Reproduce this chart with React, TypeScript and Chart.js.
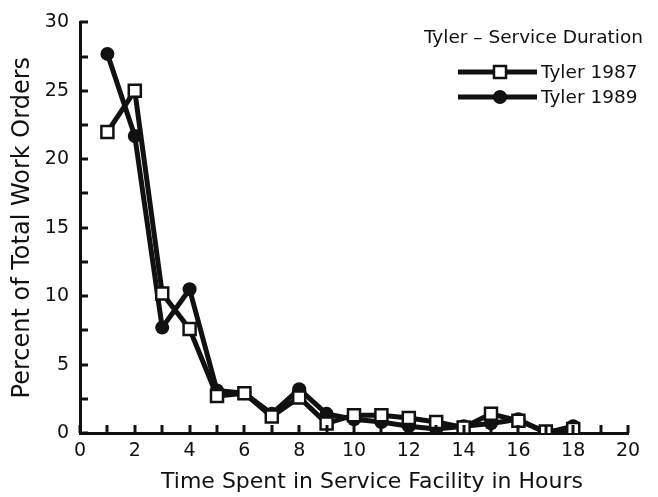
import React, { useEffect, useRef } from "react";
import { Chart, registerables } from "chart.js";

Chart.register(...registerables);

// ---- data ----
const hours = [1, 2, 3, 4, 5, 6, 7, 8, 9, 10, 11, 12, 13, 14, 15, 16, 17, 18];
const tyler1987 = [22.0, 25.0, 10.2, 7.6, 2.7, 2.9, 1.2, 2.6, 0.7, 1.3, 1.3, 1.1, 0.8, 0.4, 1.4, 0.9, 0.1, 0.3];
const tyler1989 = [27.7, 21.7, 7.7, 10.5, 3.1, 2.9, 1.4, 3.2, 1.4, 1.0, 0.8, 0.5, 0.3, 0.5, 0.7, 1.0, 0.0, 0.5];
const seriesLabels = ["Tyler 1987", "Tyler 1989"];
const legendTitle = "Tyler \u2013 Service Duration";
const xTitle = "Time Spent in Service Facility in Hours";
const yTitle = "Percent of Total Work Orders";
const xMin = 0, xMax = 20, xStep = 1, xLabelEvery = 2;
const yMin = 0, yMax = 30, yStep = 2.5, yLabelEvery = 5;

const FONT = "'DejaVu Sans', sans-serif";
const INK = "#111";

const inwardTicks = {
  id: "inwardTicks",
  afterDraw(chart: any) {
    const { ctx, chartArea, scales } = chart;
    ctx.save();
    ctx.strokeStyle = INK;
    ctx.lineWidth = 3;
    const len = 8;
    for (let v = yMin; v <= yMax + 1e-9; v += yStep) {
      const y = Math.round(scales.y.getPixelForValue(v));
      ctx.beginPath();
      ctx.moveTo(chartArea.left, y);
      ctx.lineTo(chartArea.left + len, y);
      ctx.stroke();
    }
    for (let v = xMin; v <= xMax + 1e-9; v += xStep) {
      const x = Math.round(scales.x.getPixelForValue(v));
      ctx.beginPath();
      ctx.moveTo(x, chartArea.bottom);
      ctx.lineTo(x, chartArea.bottom - len);
      ctx.stroke();
    }
    // x axis title (slightly right of centre, as in the original)
    ctx.fillStyle = INK;
    ctx.font = `22px ${FONT}`;
    ctx.textAlign = "center";
    ctx.textBaseline = "middle";
    ctx.fillText(xTitle, 372, 482);
    ctx.restore();
  },
};

const customLegend = {
  id: "customLegend",
  afterDraw(chart: any) {
    const { ctx } = chart;
    ctx.save();
    ctx.fillStyle = INK;
    ctx.textBaseline = "middle";
    ctx.font = `18.5px ${FONT}`;
    ctx.textAlign = "right";
    ctx.fillText(legendTitle, 643, 38);
    const rows = [72, 97];
    chart.data.datasets.forEach((ds: any, i: number) => {
      const y = rows[i];
      ctx.strokeStyle = INK;
      ctx.lineWidth = 5;
      ctx.beginPath();
      ctx.moveTo(458, y);
      ctx.lineTo(537, y);
      ctx.stroke();
      const mx = 500;
      if (ds.pointStyle === "rect") {
        ctx.fillStyle = "#fff";
        ctx.lineWidth = 2.5;
        ctx.fillRect(mx - 6, y - 6, 12, 12);
        ctx.strokeRect(mx - 6, y - 6, 12, 12);
      } else {
        ctx.fillStyle = INK;
        ctx.beginPath();
        ctx.arc(mx, y, 7, 0, Math.PI * 2);
        ctx.fill();
      }
      ctx.fillStyle = INK;
      ctx.textAlign = "left";
      ctx.font = `18.5px ${FONT}`;
      ctx.fillText(ds.label, 541, y + 1);
    });
    ctx.restore();
  },
};

export default function App() {
  const ref = useRef<HTMLCanvasElement | null>(null);
  useEffect(() => {
    document.body.style.margin = "0";
    const canvas = ref.current;
    if (!canvas) return;
    const chart = new Chart(canvas, {
      type: "line",
      data: {
        datasets: [
          {
            label: seriesLabels[0],
            data: hours.map((h, i) => ({ x: h, y: tyler1987[i] })),
            borderColor: INK,
            borderWidth: 5,
            borderJoinStyle: "round",
            pointStyle: "rect",
            pointRadius: 8.5,
            pointBorderWidth: 2.5,
            pointBackgroundColor: "#fff",
            pointBorderColor: INK,
            tension: 0,
            order: 1,
          },
          {
            label: seriesLabels[1],
            data: hours.map((h, i) => ({ x: h, y: tyler1989[i] })),
            borderColor: INK,
            borderWidth: 5,
            borderJoinStyle: "round",
            pointStyle: "circle",
            pointRadius: 7,
            pointBorderWidth: 0,
            pointBackgroundColor: INK,
            pointBorderColor: INK,
            tension: 0,
            order: 2,
          },
        ],
      } as any,
      options: {
        animation: false,
        responsive: false,
        maintainAspectRatio: false,
        layout: { padding: { top: 20, right: 30, left: 0, bottom: 0 } },
        plugins: { legend: { display: false }, tooltip: { enabled: false } },
        scales: {
          x: {
            type: "linear",
            min: xMin,
            max: xMax,
            afterFit: (s: any) => { s.height = 64; },
            grid: { display: false, drawTicks: false },
            border: { display: true, width: 3, color: INK },
            ticks: {
              stepSize: xStep,
              autoSkip: false,
              maxRotation: 0,
              padding: 7,
              color: INK,
              font: { family: FONT, size: 19 },
              callback: (v: any) => (Number(v) % xLabelEvery === 0 ? String(v) : ""),
            },
            title: { display: false, text: xTitle },
          },
          y: {
            type: "linear",
            min: yMin,
            max: yMax,
            afterFit: (s: any) => { s.width = 80; },
            grid: { display: false, drawTicks: false },
            border: { display: true, width: 3, color: INK },
            ticks: {
              stepSize: yStep,
              autoSkip: false,
              padding: 11,
              color: INK,
              font: { family: FONT, size: 19 },
              callback: (v: any) => (Number(v) % yLabelEvery === 0 ? String(v) : ""),
            },
            title: {
              display: true,
              text: yTitle,
              color: INK,
              font: { family: FONT, size: 24 },
              padding: { top: 8, bottom: 0 },
            },
          },
        },
      } as any,
      plugins: [inwardTicks, customLegend],
    });
    return () => chart.destroy();
  }, []);
  return (
    <div style={{ width: 658, height: 497, background: "#fff" }}>
      <canvas ref={ref} width={658} height={497} style={{ display: "block" }} />
    </div>
  );
}
